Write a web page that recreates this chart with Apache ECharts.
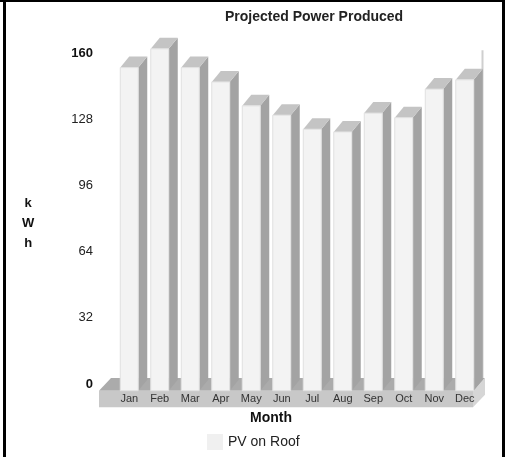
<!DOCTYPE html>
<html>
<head>
<meta charset="utf-8">
<script src="https://cdn.jsdelivr.net/npm/echarts@6/dist/echarts.min.js"></script>
<style>
html,body{margin:0;padding:0;background:#fff;}
#chart{width:505px;height:457px;}
</style>
</head>
<body>
<div id="chart"></div>
<script>
const months = ['Jan','Feb','Mar','Apr','May','Jun','Jul','Aug','Sep','Oct','Nov','Dec'];
const pvOnRoof = [156.3, 165.4, 156.3, 149.4, 137.8, 133.3, 126.5, 125.2, 134.3, 132.1, 145.9, 150.4];
const yTicks = [0, 32, 64, 96, 128, 160];
const boldTicks = [0, 160];

const FONT = '"Liberation Sans", Arial, sans-serif';
const FRONT_DY = 6.7;   // front plane offset from axis plane
const DEPTH_X = 9, DEPTH_Y = -11;

const chart = echarts.init(document.getElementById('chart'), null, {renderer: 'canvas'});

function renderFloor(params, api) {
  const cs = params.coordSys;
  const base = api.coord([0, 0]);
  const yf = base[1] + FRONT_DY;        // floor front top edge
  const yfb = yf + 16.6;                // floor front bottom edge
  const xl = cs.x - 15, xr = cs.x + cs.width - 7;
  const fdx = 12, fdy = -12.6;
  const wallTop = api.coord([0, yTicks[yTicks.length - 1]])[1] - 3;
  return {
    type: 'group',
    children: [
      { type: 'line', shape: {x1: xr + fdx - 2.5, y1: wallTop, x2: xr + fdx - 2.5, y2: yf + fdy},
        style: {stroke: '#cfcfcf', lineWidth: 2} },
      { type: 'polygon', shape: {points: [[xl, yf], [xl + fdx, yf + fdy], [xr + fdx, yf + fdy], [xr, yf]]},
        style: {fill: '#ababab'} },
      { type: 'polygon', shape: {points: [[xr, yf], [xr + fdx, yf + fdy], [xr + fdx, yfb + fdy], [xr, yfb]]},
        style: {fill: '#d6d6d6'} },
      { type: 'rect', shape: {x: xl, y: yf, width: xr - xl, height: yfb - yf},
        style: {fill: '#c8c8c8'} }
    ]
  };
}

function renderBar(params, api) {
  const i = api.value(0), v = api.value(1);
  const top = api.coord([i, v]);
  const base = api.coord([i, 0]);
  const w = api.size([1, 0])[0] * 0.59;
  const xl = top[0] - w / 2, xr = top[0] + w / 2;
  const yt = top[1] + FRONT_DY, yb = base[1] + FRONT_DY;
  return {
    type: 'group',
    children: [
      { type: 'polygon', shape: {points: [[xr, yt], [xr + DEPTH_X, yt + DEPTH_Y], [xr + DEPTH_X, yb + DEPTH_Y], [xr, yb]]},
        style: {fill: '#a3a3a3'} },
      { type: 'polygon', shape: {points: [[xl, yt], [xl + DEPTH_X, yt + DEPTH_Y], [xr + DEPTH_X, yt + DEPTH_Y], [xr, yt]]},
        style: {fill: '#c4c4c4'} },
      { type: 'rect', shape: {x: xl, y: yt, width: w, height: yb - yt},
        style: {fill: '#f3f3f3', stroke: '#e0e0e0', lineWidth: 1} }
    ]
  };
}

const option = {
  backgroundColor: '#ffffff',
  animation: false,
  title: {
    text: 'Projected Power Produced',
    left: 220, top: 5,
    textStyle: {fontFamily: FONT, fontSize: 14, fontWeight: 'bold', color: '#222'}
  },
  legend: {
    data: ['PV on Roof'],
    left: 207, top: 434, padding: 0,
    icon: 'rect', itemWidth: 16, itemHeight: 16, itemGap: 10,
    textStyle: {fontFamily: FONT, fontSize: 14, color: '#222', padding: [0, 0, 0, 0]}
  },
  grid: {left: 114, right: 25, top: 32.6, bottom: 73, containLabel: false},
  xAxis: {
    type: 'category',
    data: months,
    z: 10,
    axisLine: {show: false},
    axisTick: {show: false},
    splitLine: {show: false},
    axisLabel: {fontFamily: FONT, fontSize: 11, color: '#333', margin: 9, interval: 0}
  },
  yAxis: {
    type: 'value',
    min: 0, max: 170, interval: 32,
    z: 10,
    axisLine: {show: false},
    axisTick: {show: false},
    splitLine: {show: false},
    axisLabel: {
      margin: 21,
      fontFamily: FONT, fontSize: 13, color: '#222',
      formatter: function (v) {
        if (yTicks.indexOf(v) < 0) return '';
        return boldTicks.indexOf(v) >= 0 ? '{b|' + v + '}' : String(v);
      },
      rich: {b: {fontFamily: FONT, fontSize: 13, fontWeight: 'bold', color: '#111'}}
    }
  },
  graphic: [
    {type: 'text', left: 22, top: 193, z: 10,
      style: {text: 'k\nW\nh', font: 'bold 13px ' + FONT, fill: '#111', lineHeight: 20, textAlign: 'center', align: 'center'}},
    {type: 'text', left: 250, top: 411, z: 10,
      style: {text: 'Month', font: 'bold 14px ' + FONT, fill: '#111'}},
    {type: 'rect', shape: {x: 3, y: 0, width: 3, height: 457}, style: {fill: '#000'}, z: 20},
    {type: 'rect', shape: {x: 0, y: 0, width: 505, height: 2}, style: {fill: '#000'}, z: 20},
    {type: 'rect', shape: {x: 502, y: 0, width: 3, height: 457}, style: {fill: '#000'}, z: 20}
  ],
  series: [
    {
      name: 'floor', type: 'custom', z: 1, silent: true,
      renderItem: renderFloor,
      data: [[0, 0]],
      tooltip: {show: false}
    },
    {
      name: 'PV on Roof', type: 'custom', z: 2,
      itemStyle: {color: '#f0f0f0'},
      renderItem: renderBar,
      encode: {x: 0, y: 1},
      data: pvOnRoof.map((v, i) => [i, v])
    }
  ]
};
chart.setOption(option);
</script>
</body>
</html>
